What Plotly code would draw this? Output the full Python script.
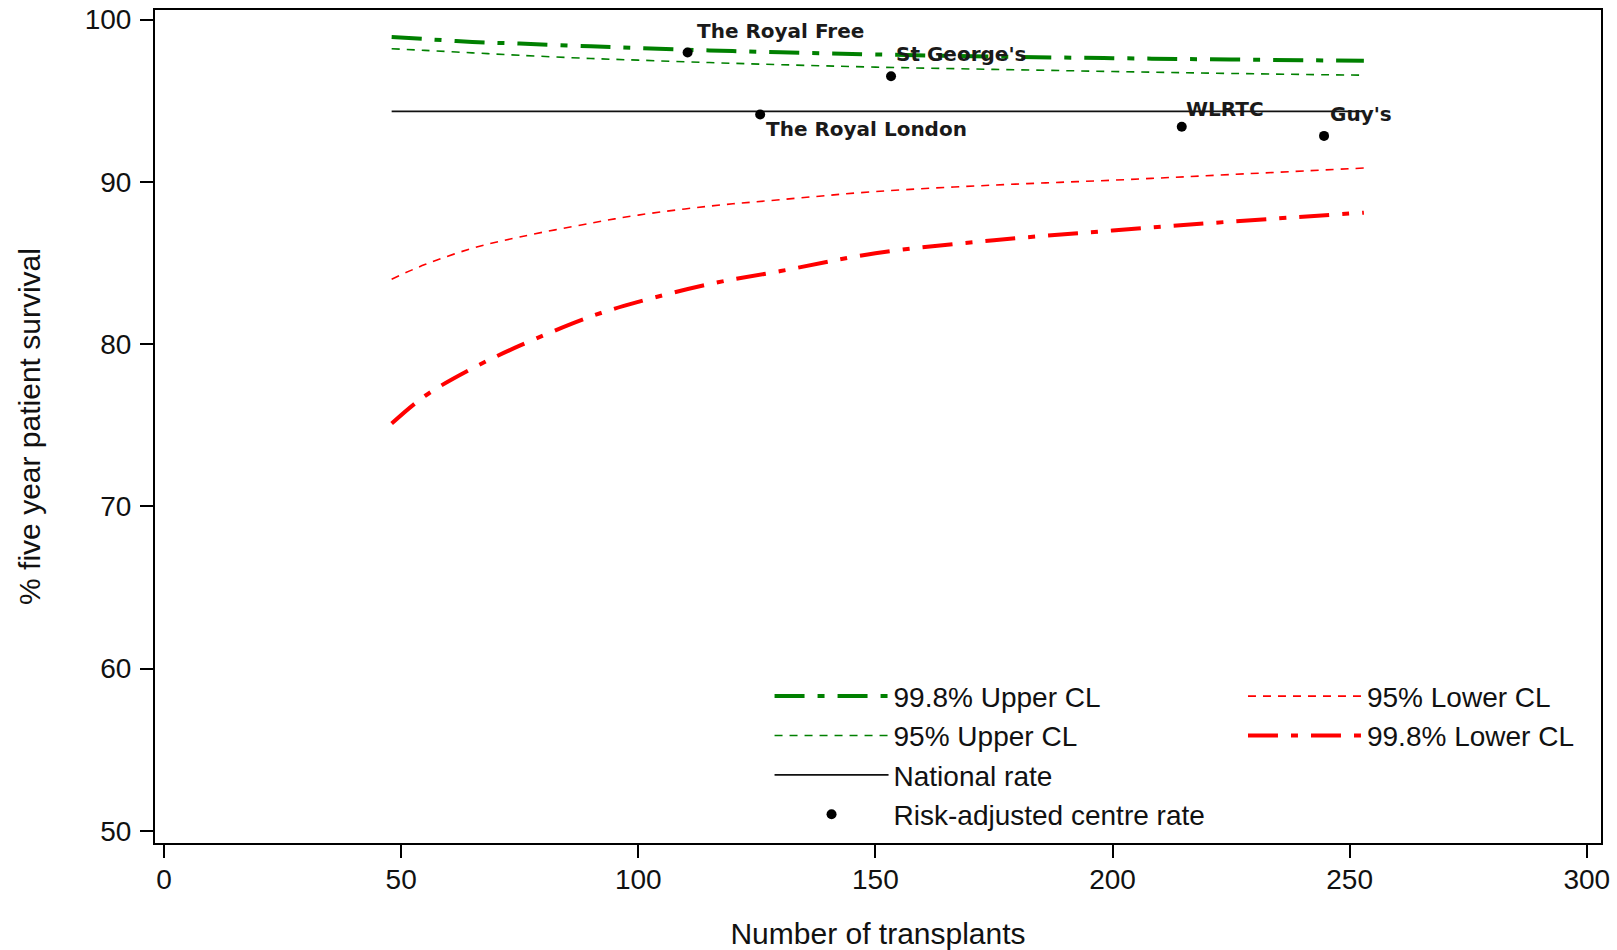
import plotly.graph_objects as go

# ---- data ----
n_grid = [48, 55, 65, 75, 90, 100, 115, 130, 150, 175, 200, 225, 253]
upper_998 = [98.92, 98.8, 98.62, 98.52, 98.35, 98.25, 98.1, 97.98, 97.85, 97.72, 97.62, 97.54, 97.46]
upper_95 = [98.2, 98.1, 97.95, 97.8, 97.6, 97.5, 97.35, 97.22, 97.07, 96.93, 96.8, 96.68, 96.57]
lower_95 = [84.0, 84.9, 85.9, 86.6, 87.45, 87.95, 88.5, 88.9, 89.4, 89.8, 90.1, 90.45, 90.85]
lower_998 = [75.1, 76.8, 78.5, 79.9, 81.7, 82.6, 83.7, 84.5, 85.6, 86.4, 87.0, 87.55, 88.1]
national_rate = 94.34

centres = ["The Royal Free", "St George's", "The Royal London", "WLRTC", "Guy's"]
centre_n = [110.4, 153.3, 125.7, 214.6, 244.6]
centre_rate = [97.97, 96.51, 94.15, 93.39, 92.83]
# label offsets in pixels (style, not data)
label_shift = [(7, 22), (3, 22), (4, -15), (2, 18), (4, 22)]

x_ticks = [0, 50, 100, 150, 200, 250, 300]
y_ticks = [50, 60, 70, 80, 90, 100]

GREEN = "#008000"
RED = "#ff0000"
SANS = "Liberation Sans, Arial, sans-serif"
LEG_FONT = dict(family=SANS, size=28, color="#111111")

fig = go.Figure()

fig.add_trace(go.Scatter(x=n_grid, y=upper_998, mode="lines", name="99.8% Upper CL", line_shape="spline",
                         line=dict(color=GREEN, width=4, dash="30px,13px,7px,13px"), legend="legend"))
fig.add_trace(go.Scatter(x=n_grid, y=upper_95, mode="lines", name="95% Upper CL", line_shape="spline",
                         line=dict(color=GREEN, width=1.6, dash="8px,7px"), legend="legend"))
fig.add_trace(go.Scatter(x=[n_grid[0], n_grid[-1]], y=[national_rate, national_rate], mode="lines",
                         name="National rate", line=dict(color="#111111", width=1.6), legend="legend"))
fig.add_trace(go.Scatter(x=centre_n, y=centre_rate, mode="markers", name="Risk-adjusted centre rate",
                         marker=dict(color="black", size=10), legend="legend"))
fig.add_trace(go.Scatter(x=n_grid, y=lower_95, mode="lines", name="95% Lower CL", line_shape="spline",
                         line=dict(color=RED, width=1.6, dash="8px,7px"), legend="legend2"))
fig.add_trace(go.Scatter(x=n_grid, y=lower_998, mode="lines", name="99.8% Lower CL", line_shape="spline",
                         line=dict(color=RED, width=4, dash="30px,13px,7px,13px"), legend="legend2"))

for name, xv, yv, (dx, dy) in zip(centres, centre_n, centre_rate, label_shift):
    fig.add_annotation(x=xv, y=yv, text=name, showarrow=False, xanchor="left", yanchor="middle",
                       xshift=dx, yshift=dy,
                       font=dict(family="DejaVu Sans, sans-serif", size=20, color="#1a1a1a", weight="bold"))

axis_common = dict(showline=True, linecolor="black", linewidth=2, mirror=True, ticks="outside",
                   ticklen=13, tickwidth=1.5, tickcolor="black", showgrid=False, zeroline=False,
                   automargin=False, ticklabeloverflow="allow",
                   tickfont=dict(family=SANS, size=28, color="#111111"))

fig.update_layout(
    width=1617, height=950,
    margin=dict(l=155, r=16, t=10, b=107),
    paper_bgcolor="white", plot_bgcolor="white",
    xaxis=dict(range=[-1.9, 303.0], tickvals=x_ticks, ticklabelstandoff=-3,
               title=dict(text="Number of transplants", standoff=33,
                          font=dict(family=SANS, size=30, color="#111111")),
               **axis_common),
    yaxis=dict(range=[49.25, 100.59], tickvals=y_ticks, ticklabelstandoff=3,
               title=dict(text="% five year patient survival", standoff=35,
                          font=dict(family=SANS, size=30, color="#111111")),
               **axis_common),
    legend=dict(x=0.425, y=0.206, xanchor="left", yanchor="top", bgcolor="rgba(0,0,0,0)",
                font=LEG_FONT, itemwidth=114, tracegroupgap=0),
    legend2=dict(x=0.7524, y=0.206, xanchor="left", yanchor="top", bgcolor="rgba(0,0,0,0)",
                 font=LEG_FONT, itemwidth=114, tracegroupgap=0),
    showlegend=True,
)

# remove the browser's default 8px body margin so the figure fills the window exactly
fig.write_html("out.html", config={"displayModeBar": False},
               post_script="document.body.style.margin='0';")
